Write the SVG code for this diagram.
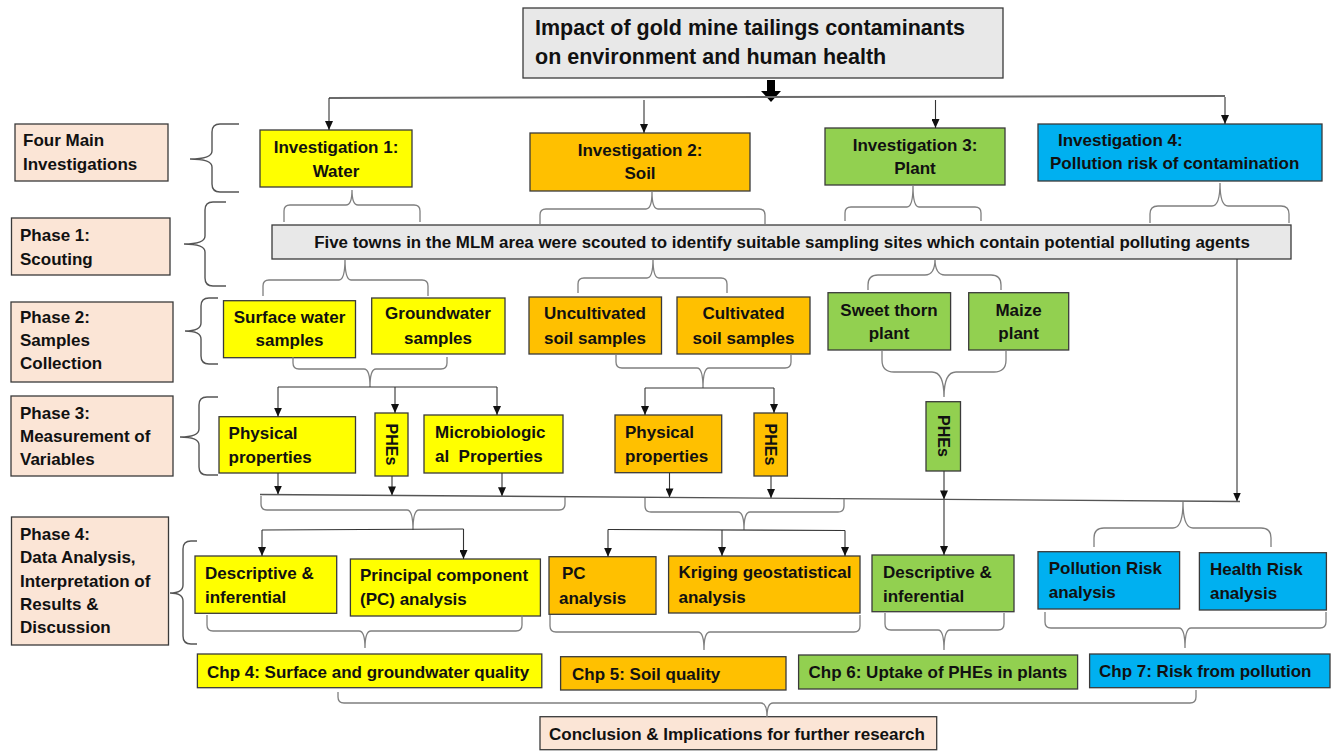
<svg xmlns="http://www.w3.org/2000/svg" width="1335" height="751" viewBox="0 0 1335 751">
<defs>
<style>
text{font-family:"Liberation Sans",Arial,sans-serif;font-weight:bold;font-size:17px;fill:#111}
.c{text-anchor:middle}
.box{stroke:#3a3a3a;stroke-width:1.3}
.gray{fill:#e8e8e8}
.peach{fill:#fbe5d6}
.yel{fill:#ffff00}
.org{fill:#ffc000}
.grn{fill:#92d050}
.blu{fill:#00b0f0}
.ln{fill:none;stroke:#333;stroke-width:1.1}
.arr{fill:none;stroke:#333;stroke-width:1.1;marker-end:url(#ah)}
.br{fill:none;stroke:#7f7f7f;stroke-width:1.3}
.lbr{fill:none;stroke:#555;stroke-width:1.4}
.rot{font-size:16px;text-anchor:middle;dominant-baseline:central}
</style>
<marker id="ah" viewBox="0 0 9 8" refX="9" refY="4" markerWidth="9" markerHeight="8" markerUnits="userSpaceOnUse" orient="auto">
<path d="M0,0 L9,4 L0,8 z" fill="#111"/>
</marker>
</defs>
<rect width="1335" height="751" fill="#fff"/>

<g id="title">
<rect class="box gray" x="523" y="8" width="480" height="70"/>
<text x="535" y="35" style="font-size:21.5px">Impact of gold mine tailings contaminants</text>
<text x="535" y="64" style="font-size:21.5px">on environment and human health</text>
</g>

<g id="label-four-main">
<rect class="box peach" x="15" y="124" width="153" height="57"/>
<text x="23" y="146">Four Main</text>
<text x="23" y="170">Investigations</text>
</g>
<g id="label-phase1">
<rect class="box peach" x="11.5" y="218" width="158.5" height="57"/>
<text x="20" y="241">Phase 1:</text>
<text x="20" y="265">Scouting</text>
</g>
<g id="label-phase2">
<rect class="box peach" x="11" y="302" width="162" height="80"/>
<text x="20" y="323">Phase 2:</text>
<text x="20" y="346">Samples</text>
<text x="20" y="369">Collection</text>
</g>
<g id="label-phase3">
<rect class="box peach" x="11" y="396" width="162" height="80"/>
<text x="20" y="419">Phase 3:</text>
<text x="20" y="442">Measurement of</text>
<text x="20" y="465">Variables</text>
</g>
<g id="label-phase4">
<rect class="box peach" x="11.5" y="517" width="157" height="128"/>
<text x="20" y="540">Phase 4:</text>
<text x="20" y="563">Data Analysis,</text>
<text x="20" y="587">Interpretation of</text>
<text x="20" y="610">Results &amp;</text>
<text x="20" y="633">Discussion</text>
</g>

<g id="inv1">
<rect class="box yel" x="260" y="130" width="152" height="57"/>
<text class="c" x="336" y="153">Investigation 1:</text>
<text class="c" x="336" y="177">Water</text>
</g>
<g id="inv2">
<rect class="box org" x="530" y="133" width="220" height="58"/>
<text class="c" x="640" y="156">Investigation 2:</text>
<text class="c" x="640" y="179">Soil</text>
</g>
<g id="inv3">
<rect class="box grn" x="825" y="128" width="180" height="57"/>
<text class="c" x="915" y="151">Investigation 3:</text>
<text class="c" x="915" y="174">Plant</text>
</g>
<g id="inv4">
<rect class="box blu" x="1038" y="124" width="284" height="57"/>
<text x="1058" y="146">Investigation 4:</text>
<text x="1050" y="169">Pollution risk of contamination</text>
</g>

<g id="scouting">
<rect class="box gray" x="272" y="225" width="1019" height="34"/>
<text class="c" x="782" y="248" style="font-size:16.9px">Five towns in the MLM area were scouted to identify suitable sampling sites which contain potential polluting agents</text>
</g>

<g id="surface-water">
<rect class="box yel" x="223.5" y="300.7" width="132" height="57"/>
<text class="c" x="289.5" y="323">Surface water</text>
<text class="c" x="289.5" y="346">samples</text>
</g>
<g id="groundwater">
<rect class="box yel" x="371.7" y="298" width="133.3" height="56"/>
<text class="c" x="438" y="319">Groundwater</text>
<text class="c" x="438" y="344">samples</text>
</g>
<g id="uncultivated">
<rect class="box org" x="529" y="297" width="132.5" height="57"/>
<text class="c" x="595" y="319">Uncultivated</text>
<text class="c" x="595" y="344">soil samples</text>
</g>
<g id="cultivated">
<rect class="box org" x="677" y="297" width="133" height="57"/>
<text class="c" x="743.5" y="319">Cultivated</text>
<text class="c" x="743.5" y="344">soil samples</text>
</g>
<g id="sweet-thorn">
<rect class="box grn" x="828" y="292.7" width="122.6" height="57.3"/>
<text class="c" x="889" y="316">Sweet thorn</text>
<text class="c" x="889" y="339">plant</text>
</g>
<g id="maize">
<rect class="box grn" x="968.7" y="292.7" width="100" height="57.3"/>
<text class="c" x="1018.6" y="316">Maize</text>
<text class="c" x="1018.6" y="339">plant</text>
</g>

<g id="phys-water">
<rect class="box yel" x="219" y="416.7" width="136.5" height="56.3"/>
<text x="228.6" y="439">Physical</text>
<text x="228.6" y="462.7">properties</text>
</g>
<g id="phes-water">
<rect class="box yel" x="375" y="413" width="33" height="63"/>
<text class="rot" transform="rotate(90 391.5 444.5)" x="391.5" y="444.5">PHEs</text>
</g>
<g id="micro-water">
<rect class="box yel" x="424" y="415" width="139" height="58"/>
<text x="435" y="437.7">Microbiologic</text>
<text x="435" y="462" xml:space="preserve">al  Properties</text>
</g>
<g id="phys-soil">
<rect class="box org" x="615" y="415" width="106.7" height="57.7"/>
<text x="625" y="437.7">Physical</text>
<text x="625" y="462">properties</text>
</g>
<g id="phes-soil">
<rect class="box org" x="754" y="413" width="33.4" height="63"/>
<text class="rot" transform="rotate(90 770.7 444.5)" x="770.7" y="444.5">PHEs</text>
</g>
<g id="phes-plant">
<rect class="box grn" x="926" y="401.7" width="34.5" height="69.3"/>
<text class="rot" transform="rotate(90 943.2 436)" x="943.2" y="436">PHEs</text>
</g>

<g id="desc-water">
<rect class="box yel" x="195" y="556" width="141.7" height="57.3"/>
<text x="205" y="579">Descriptive &amp;</text>
<text x="205" y="602.7">inferential</text>
</g>
<g id="pca-water">
<rect class="box yel" x="350.4" y="559" width="190" height="57"/>
<text x="360" y="581">Principal component</text>
<text x="360" y="604.7">(PC) analysis</text>
</g>
<g id="pc-soil">
<rect class="box org" x="549" y="556.7" width="107" height="57.6"/>
<text x="562" y="579">PC</text>
<text x="559" y="603.7">analysis</text>
</g>
<g id="kriging">
<rect class="box org" x="668.6" y="556" width="191.4" height="57"/>
<text x="678.5" y="578.3">Kriging geostatistical</text>
<text x="678.5" y="602.7">analysis</text>
</g>
<g id="desc-plant">
<rect class="box grn" x="872" y="555" width="142" height="56.7"/>
<text x="883" y="577.7">Descriptive &amp;</text>
<text x="883" y="601.7">inferential</text>
</g>
<g id="pollution-risk">
<rect class="box blu" x="1038" y="551.7" width="141.6" height="57.3"/>
<text x="1048.7" y="574.3">Pollution Risk</text>
<text x="1048.7" y="598.3">analysis</text>
</g>
<g id="health-risk">
<rect class="box blu" x="1199.4" y="552.7" width="127" height="57.3"/>
<text x="1210" y="575.3">Health Risk</text>
<text x="1210" y="599.3">analysis</text>
</g>

<g id="chp4">
<rect class="box yel" x="197.4" y="654" width="344.4" height="33.7"/>
<text x="207" y="677.5">Chp 4: Surface and groundwater quality</text>
</g>
<g id="chp5">
<rect class="box org" x="560.6" y="656.7" width="225.4" height="33.3"/>
<text x="572" y="679.5">Chp 5: Soil quality</text>
</g>
<g id="chp6">
<rect class="box grn" x="798.6" y="655" width="279" height="34"/>
<text x="808.5" y="678.3">Chp 6: Uptake of PHEs in plants</text>
</g>
<g id="chp7">
<rect class="box blu" x="1089.6" y="654" width="240.4" height="33.7"/>
<text x="1099" y="677">Chp 7: Risk from pollution</text>
</g>
<g id="conclusion">
<rect class="box peach" x="540" y="716.7" width="396.7" height="33"/>
<text x="549" y="739.5">Conclusion &amp; Implications for further research</text>
</g>

<g id="connectors">
<polygon points="767,80 775,80 775,91 781,91 771,102 761,91 767,91" fill="#000"/>
<path d="M329,98 L1225,96" fill="none" stroke="#6a6a6a" stroke-width="2"/>
<path class="arr" d="M329,98 L329,130"/>
<path class="arr" d="M644,100 L644,133"/>
<path class="arr" d="M935.5,100 L935.5,128"/>
<path class="arr" d="M1225,97 L1225,124"/>

<path class="lbr" d="M239,124 L220,124 Q212,124 212,132 L212,151 Q212,159 190,159 Q212,159 212,167 L212,184 Q212,192 220,192 L239,192"/>
<path class="lbr" d="M226,202 L213,202 Q205,202 205,210 L205,236 Q205,244 184,244 Q205,244 205,252 L205,278 Q205,286 213,286 L226,286"/>
<path class="lbr" d="M218,298 L209,298 Q201,298 201,306 L201,323 Q201,331 185,331 Q201,331 201,339 L201,356 Q201,364 209,364 L218,364"/>
<path class="lbr" d="M218,397 L207,397 Q199,397 199,405 L199,429 Q199,437 180,437 Q199,437 199,445 L199,467 Q199,475 207,475 L218,475"/>
<path class="lbr" d="M197,541 L191,541 Q183,541 183,549 L183,585 Q183,593 170,593 Q183,593 183,601 L183,636 Q183,644 191,644 L197,644"/>

<path class="br" d="M284,222 L284,211 Q284,205 290,205 L346,205 Q352,205 352,190 Q352,205 358,205 L414,205 Q420,205 420,211 L420,222"/>
<path class="br" d="M540,224 L540,215 Q540,209 546,209 L646,209 Q652,209 652,192 Q652,209 658,209 L759,209 Q765,209 765,215 L765,224"/>
<path class="br" d="M845,221 L845,213 Q845,207 851,207 L907,207 Q913,207 913,186 Q913,207 919,207 L975,207 Q981,207 981,213 L981,221"/>
<path class="br" d="M1150,223 L1150,214 Q1150,206 1158,206 L1212,206 Q1220,206 1220,183 Q1220,206 1228,206 L1281,206 Q1289,206 1289,214 L1289,223"/>

<path class="br" d="M263,296 L263,286 Q263,280 269,280 L339,280 Q345,280 345,259 Q345,280 351,280 L422,280 Q428,280 428,286 L428,296"/>
<path class="br" d="M578,293 L578,284 Q578,278 584,278 L647,278 Q653,278 653,259 Q653,278 659,278 L721,278 Q727,278 727,284 L727,293"/>
<path class="br" d="M868,290 L868,285 Q868,275 878,275 L925,275 Q935,275 935,259 Q935,275 945,275 L991,275 Q1001,275 1001,285 L1001,290"/>
<path class="arr" d="M1237,259 L1237,501.5"/>

<path class="br" d="M293,357 L293,363 Q293,369 299,369 L364,369 Q370,369 370,387 Q370,369 376,369 L441,369 Q447,369 447,363 L447,357"/>
<path class="ln" d="M278,387 L497,387"/>
<path class="arr" d="M278,387 L278,416.7"/>
<path class="arr" d="M395,387 L395,413"/>
<path class="arr" d="M497,387 L497,415"/>
<path class="br" d="M616,355 L616,362 Q616,368 622,368 L697,368 Q703,368 703,388 Q703,368 709,368 L785,368 Q791,368 791,362 L791,355"/>
<path class="ln" d="M645,388 L774,388"/>
<path class="arr" d="M645,388 L645,415"/>
<path class="arr" d="M774,388 L774,413"/>
<path class="br" d="M882,351 L882,360 Q882,372 894,372 L932,372 Q944,372 944,397 Q944,372 956,372 L994,372 Q1006,372 1006,360 L1006,351"/>

<path class="arr" d="M278,473 L278,494.6"/>
<path class="arr" d="M392,476 L392,495.4"/>
<path class="arr" d="M502,473 L502,496.2"/>
<path class="arr" d="M669.5,473 L669.5,497.4"/>
<path class="arr" d="M771,476 L771,498.1"/>
<path class="arr" d="M944,471 L944,499.4"/>
<path d="M260,494.5 L1240,501.5" fill="none" stroke="#555" stroke-width="1.4"/>

<path class="br" d="M261,496 L261,504 Q261,510 267,510 L407,510 Q413,510 413,530 Q413,510 419,510 L559,510 Q565,510 565,504 L565,497"/>
<path class="ln" d="M262,530 L463.5,529"/>
<path class="arr" d="M262,530 L262,556"/>
<path class="arr" d="M463.5,529 L463.5,559"/>
<path class="br" d="M645,498 L645,506 Q645,512 651,512 L738,512 Q744,512 744,530 Q744,512 750,512 L838,512 Q844,512 844,506 L844,499"/>
<path class="ln" d="M608,529.5 L845,530.5"/>
<path class="arr" d="M608,529.5 L608,556.7"/>
<path class="arr" d="M722,530 L722,556"/>
<path class="arr" d="M845,530.5 L845,556"/>
<path class="arr" d="M944,499.4 L944,555"/>
<path class="br" d="M1094,547 L1094,538 Q1094,528 1104,528 L1173,528 Q1183,528 1183,502 Q1183,528 1193,528 L1261,528 Q1271,528 1271,538 L1271,547"/>

<path class="br" d="M207,615 L207,625 Q207,631 213,631 L359,631 Q365,631 365,648 Q365,631 371,631 L516,631 Q522,631 522,625 L522,615"/>
<path class="br" d="M550,615 L550,626 Q550,632 556,632 L698,632 Q704,632 704,650 Q704,632 710,632 L854,632 Q860,632 860,626 L860,615"/>
<path class="br" d="M885,613 L885,624 Q885,630 891,630 L938,630 Q944,630 944,650 Q944,630 950,630 L998,630 Q1004,630 1004,624 L1004,613"/>
<path class="br" d="M1045,612 L1045,622 Q1045,628 1051,628 L1179,628 Q1185,628 1185,648 Q1185,628 1191,628 L1320,628 Q1326,628 1326,622 L1326,612"/>

<path class="br" d="M338,692 L338,697 Q338,703 344,703 L761,703 Q767,703 767,717 Q767,703 773,703 L1190,703 Q1196,703 1196,697 L1196,690"/>
</g>
</svg>
